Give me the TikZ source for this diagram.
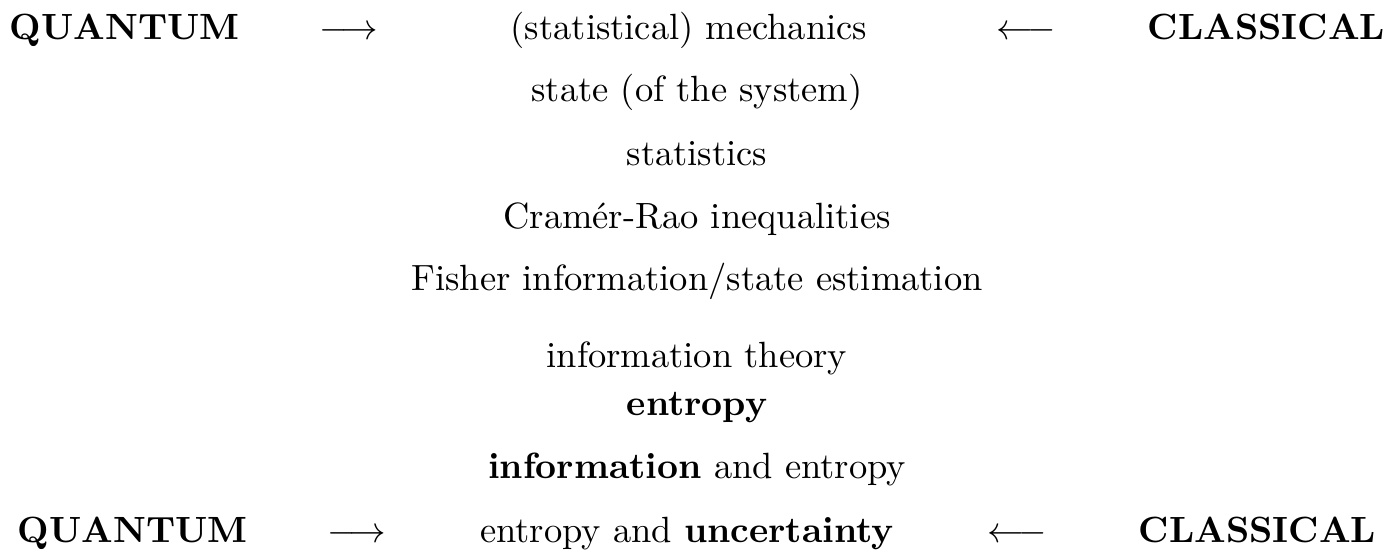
\documentclass[tikz,border=0pt]{standalone}
\begin{document}
\begin{tikzpicture}[x=0.27397pt,y=-0.27397pt,
  lbl/.style={inner sep=0pt,outer sep=0pt,anchor=base},
  lblw/.style={lbl,anchor=base west},
  lble/.style={lbl,anchor=base east}]
\useasboundingbox (0,0) rectangle (1397,549);
% top row
\node[lblw] (q1) at (10,39) {\textbf{QUANTUM}};
\node[lbl]  (a1) at (349,39) {$\longrightarrow$};
\node[lbl]  (m1) at (689,39) {(statistical) mechanics};
\node[lbl]  (b1) at (1026,39) {$\longleftarrow$};
\node[lble] (c1) at (1385,39) {\textbf{CLASSICAL}};
% middle column
\node[lbl] (r2) at (697,101) {state (of the system)};
\node[lbl] (r3) at (697,165) {statistics};
\node[lbl] (r4) at (697,228) {Cram\'er-Rao inequalities};
\node[lbl] (r5) at (697,290) {Fisher information/state estimation};
\node[lbl] (r6) at (697,367) {information theory};
\node[lbl] (r7) at (697,415) {\textbf{entropy}};
\node[lbl] (r8) at (697,478) {\textbf{information} and entropy};
% bottom row
\node[lblw] (q2) at (18,542) {\textbf{QUANTUM}};
\node[lbl]  (a2) at (357,542) {$\longrightarrow$};
\node[lbl]  (m2) at (687,542) {entropy and \textbf{uncertainty}};
\node[lbl]  (b2) at (1017,542) {$\longleftarrow$};
\node[lble] (c2) at (1376,542) {\textbf{CLASSICAL}};
\end{tikzpicture}
\end{document}
